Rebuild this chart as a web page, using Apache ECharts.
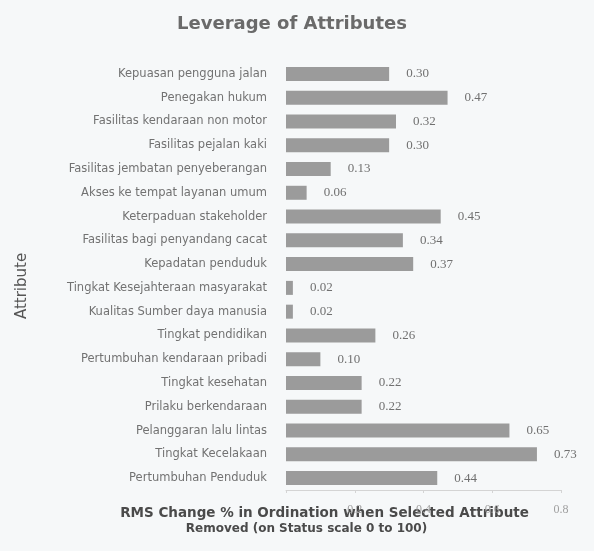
<!DOCTYPE html>
<html><head><meta charset="utf-8">
<script src="https://cdn.jsdelivr.net/npm/echarts@6/dist/echarts.min.js"></script>
<style>html,body{margin:0;padding:0;background:#f6f8f9;}#c{width:594px;height:551px;}</style>
</head><body><div id="c"></div>
<script>
const categories = [
  'Kepuasan pengguna jalan','Penegakan hukum','Fasilitas kendaraan non motor','Fasilitas pejalan kaki',
  'Fasilitas jembatan penyeberangan','Akses ke tempat layanan umum','Keterpaduan stakeholder',
  'Fasilitas bagi penyandang cacat','Kepadatan penduduk','Tingkat Kesejahteraan masyarakat',
  'Kualitas Sumber daya manusia','Tingkat pendidikan','Pertumbuhan kendaraan pribadi','Tingkat kesehatan',
  'Prilaku berkendaraan','Pelanggaran lalu lintas','Tingkat Kecelakaan','Pertumbuhan Penduduk'
];
const values = [0.30,0.47,0.32,0.30,0.13,0.06,0.45,0.34,0.37,0.02,0.02,0.26,0.10,0.22,0.22,0.65,0.73,0.44];
const xTicks = [0, 0.2, 0.4, 0.6, 0.8];
const xNameLines = ['RMS Change % in Ordination when Selected Attribute', 'Removed (on Status scale 0 to 100)'];

const chart = echarts.init(document.getElementById('c'));
chart.setOption({
  backgroundColor: '#f6f8f9',
  animation: false,
  title: {
    text: 'Leverage of Attributes', left: 287, top: 10, textAlign: 'center',
    textStyle: {fontFamily: 'DejaVu Sans', fontSize: 18, fontWeight: 'bold', color: '#6a6a6a'}
  },
  grid: {left: 286, right: 33, top: 62, bottom: 61, outerBoundsMode: 'none', containLabel: false},
  xAxis: {
    type: 'value', min: xTicks[0], max: xTicks[xTicks.length-1], interval: 0.2,
    splitLine: {show: false},
    axisLine: {show: true, lineStyle: {color: '#d4d4d4'}},
    axisTick: {show: true, length: 3, lineStyle: {color: '#d4d4d4'}},
    axisLabel: {
      margin: 14, color: '#a0a0a0', fontFamily: 'Liberation Serif', fontSize: 12,
      formatter: v => v === 0 ? '' : v.toFixed(1)
    },
    name: '{a|' + xNameLines[0] + '}\n{b|' + xNameLines[1] + '}',
    nameLocation: 'middle', nameGap: 16, nameMoveOverlap: false,
    nameTextStyle: {
      padding: [0, 0, 0, -198],
      rich: {
        a: {fontFamily: 'DejaVu Sans', fontSize: 13.5, fontWeight: 'bold', color: '#4a4a4a', lineHeight: 15},
        b: {fontFamily: 'DejaVu Sans', fontSize: 12, fontWeight: 'bold', color: '#4a4a4a', lineHeight: 15, padding: [0, 36, 0, 0]}
      }
    }
  },
  yAxis: {
    type: 'category', data: categories, inverse: true,
    axisLine: {show: false}, axisTick: {show: false},
    axisLabel: {margin: 19, color: '#727272', fontFamily: 'DejaVu Sans', fontSize: 11.5},
    name: 'Attribute', nameLocation: 'middle', nameGap: 256, nameRotate: 90, nameMoveOverlap: false,
    nameTextStyle: {fontFamily: 'DejaVu Sans', fontSize: 15, color: '#555', padding: [0, 0, 0, -20]}
  },
  series: [{
    type: 'bar', data: values, barWidth: 14,
    itemStyle: {color: '#9b9b9b'},
    label: {
      show: true, position: 'right', distance: 17, color: '#707070',
      fontFamily: 'Liberation Serif', fontSize: 13,
      formatter: p => p.value.toFixed(2)
    }
  }]
});
</script></body></html>
